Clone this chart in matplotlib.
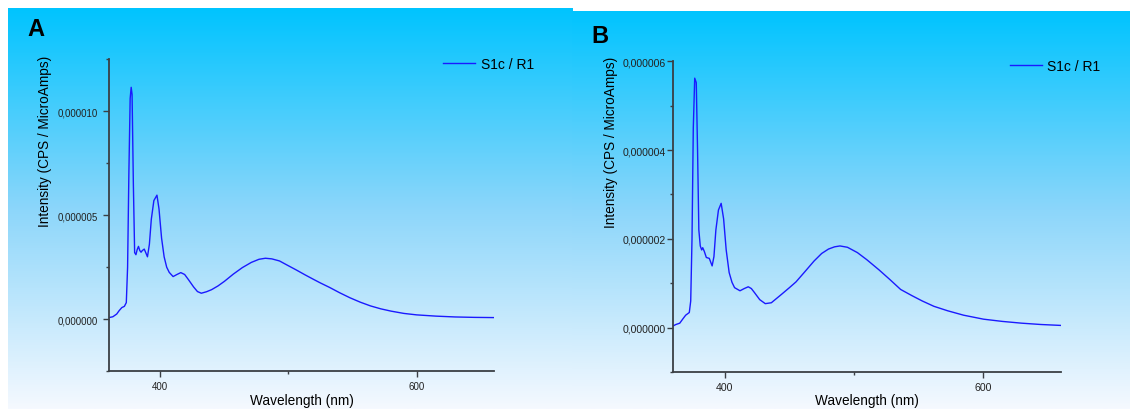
import numpy as np
import matplotlib
matplotlib.use("Agg")
import matplotlib.pyplot as plt
from matplotlib.colors import LinearSegmentedColormap
from matplotlib.ticker import MultipleLocator, FuncFormatter

plt.rcParams['font.family'] = ['Liberation Sans', 'DejaVu Sans']

# panel A spectrum (wavelength nm, intensity in 1e-6)
wl_a = [360, 363, 366, 368, 370, 372, 373.5, 374.5, 375.5, 376.5, 377.3, 378, 379, 380, 381,
        382, 383, 384, 385, 386, 387.5, 389, 390, 391.5, 393, 395, 397.4, 399, 401, 403, 405,
        407, 410, 413, 416, 419, 422, 426, 429, 432, 436, 440, 445, 450, 457, 464, 471, 477,
        482, 487, 493, 499, 506, 513, 520, 525, 532, 540, 548, 556, 564, 572, 580, 590, 600,
        615, 630, 645, 660]
int_a = [0.08, 0.12, 0.25, 0.42, 0.56, 0.62, 0.8, 2.5, 7.0, 10.6, 11.14, 10.8, 6.5, 3.2, 3.1,
         3.35, 3.5, 3.3, 3.22, 3.3, 3.37, 3.15, 3.0, 3.6, 4.8, 5.7, 5.96, 5.3, 3.9, 3.0, 2.5,
         2.25, 2.05, 2.15, 2.24, 2.15, 1.9, 1.55, 1.33, 1.25, 1.32, 1.42, 1.6, 1.82, 2.17, 2.48,
         2.73, 2.88, 2.93, 2.9, 2.8, 2.6, 2.37, 2.13, 1.9, 1.74, 1.53, 1.27, 1.03, 0.82, 0.64,
         0.5, 0.39, 0.28, 0.21, 0.15, 0.11, 0.09, 0.08]

# panel B spectrum
wl_b = [360, 362, 365, 367.5, 369.6, 372.4, 373.5, 374.5, 375.5, 376.6, 377.8, 378.8, 379.8,
        380.9, 382, 382.8, 384, 385.6, 387.9, 390.1, 391.5, 393, 395, 397.1, 399, 401, 403.3,
        405.5, 407.5, 411.7, 415, 418.1, 420.5, 422.9, 427, 431.3, 436, 443.9, 450, 455.1, 462,
        469.1, 475, 480.3, 485, 489.2, 495, 502.7, 510, 519.5, 528, 536.2, 545, 553, 562, 572.6,
        585, 600.5, 615, 630, 645, 660]
int_b = [0.04, 0.07, 0.1, 0.2, 0.28, 0.34, 0.6, 2.0, 4.5, 5.62, 5.52, 4.0, 2.2, 1.84, 1.75,
         1.8, 1.72, 1.58, 1.56, 1.39, 1.6, 2.2, 2.65, 2.80, 2.45, 1.75, 1.24, 1.02, 0.9, 0.83,
         0.88, 0.92, 0.88, 0.79, 0.63, 0.54, 0.56, 0.75, 0.9, 1.03, 1.26, 1.5, 1.67, 1.77, 1.82,
         1.84, 1.81, 1.69, 1.53, 1.3, 1.08, 0.86, 0.72, 0.6, 0.48, 0.38, 0.28, 0.19, 0.14, 0.1,
         0.07, 0.05]

W, H = 1130, 410
fig = plt.figure(figsize=(W / 100, H / 100), dpi=100)

cmap = LinearSegmentedColormap.from_list(
    "bg", [(0.0, (0 / 255, 196 / 255, 1.0)), (0.5, (140 / 255, 214 / 255, 250 / 255)),
           (1.0, (245 / 255, 249 / 255, 1.0))])
grad = np.linspace(0, 1, 256).reshape(-1, 1)

def background(x0, y0, x1, y1):
    bg = fig.add_axes([x0 / W, 1 - y1 / H, (x1 - x0) / W, (y1 - y0) / H], zorder=-5)
    bg.imshow(grad, aspect="auto", cmap=cmap, extent=[0, 1, 0, 1])
    bg.axis("off")

background(8, 9, 572, 410)
background(572, 12, 1130, 410)

fmt = FuncFormatter(lambda v, p: f"{v:.6f}".replace(".", ","))

def panel(rect, wl, inten, ylim, ymaj, label, lab_xy, ylab_xy, xlab_xy, tsize, tpad):
    x0, y0, x1, y1 = rect
    ax = fig.add_axes([x0 / W, 1 - y1 / H, (x1 - x0) / W, (y1 - y0) / H])
    ax.patch.set_alpha(0)
    ax.plot(wl, np.array(inten) * 1e-6, color="#1a1aff", lw=1.0, label="S1c / R1")
    ax.set_xlim(360, 660.3)
    ax.set_ylim(*ylim)
    for s in ["top", "right"]:
        ax.spines[s].set_visible(False)
    for s in ["left", "bottom"]:
        ax.spines[s].set_linewidth(1.3)
        ax.spines[s].set_color("#3a3f44")
    ax.xaxis.set_major_locator(MultipleLocator(200))
    ax.xaxis.set_minor_locator(MultipleLocator(100))
    ax.yaxis.set_major_locator(MultipleLocator(ymaj))
    ax.yaxis.set_minor_locator(MultipleLocator(ymaj / 2))
    ax.yaxis.set_major_formatter(fmt)
    ax.tick_params(which="both", direction="out", color="#3a3f44", width=1.0,
                   labelsize=tsize, labelcolor="#222222")
    ax.tick_params(axis="y", pad=tpad)
    ax.tick_params(axis="x", pad=3)
    ax.tick_params(which="major", length=4)
    ax.tick_params(which="minor", length=2.5)
    ax.set_ylabel("Intensity (CPS / MicroAmps)", fontsize=9.8, va="center")
    ax.set_xlabel("Wavelength (nm)", fontsize=9.8, va="center")
    ax.yaxis.set_label_coords(*ylab_xy)
    ax.xaxis.set_label_coords(*xlab_xy)
    ax.legend(loc="center left", bbox_to_anchor=(0.868, 0.984), frameon=False,
              fontsize=10, borderpad=0, borderaxespad=0, handlelength=2.3,
              handletextpad=0.41)
    fig.text(lab_xy[0] / W, 1 - lab_xy[1] / H, label, fontsize=17, fontweight="bold",
             ha="left", va="top")
    return ax

panel((109, 60, 494, 372.3), wl_a, int_a, (-2.5e-6, 12.5e-6), 5e-6, "A", (27, 18),
      (-0.165, 0.74), (0.5, -0.093), 7.0, 4.0)
panel((673.3, 62.3, 1060.7, 373), wl_b, int_b, (-1e-6, 6e-6), 2e-6, "B", (591, 25),
      (-0.160, 0.742), (0.5, -0.09), 7.6, 1.5)

fig.savefig("out.png", dpi=100)
